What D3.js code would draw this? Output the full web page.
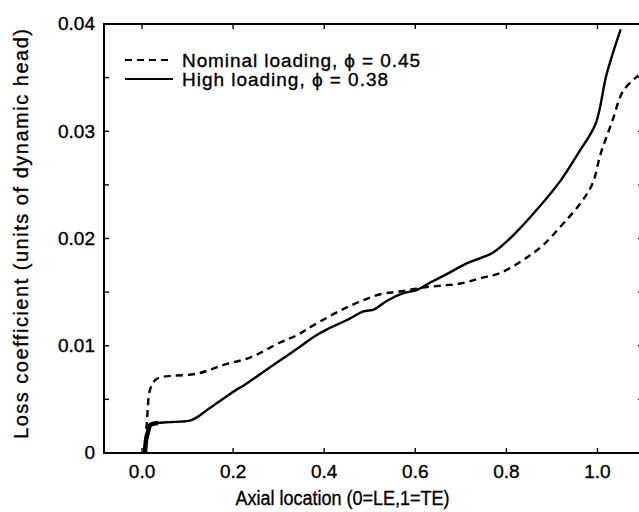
<!DOCTYPE html>
<html>
<head>
<meta charset="utf-8">
<script src="https://cdn.jsdelivr.net/npm/d3@7"></script>
<style>
  body { margin: 0; background: #fff; }
  text { font-family: "Liberation Sans", Arial, Helvetica, sans-serif; fill: #000; stroke: #000; stroke-width: 0.35px; }
</style>
</head>
<body>
<div id="my_dataviz"></div>
<script>
// data
var highX = [0.0066, 0.0088, 0.013, 0.018, 0.035, 0.07, 0.11, 0.149, 0.211, 0.22, 0.281, 0.343, 0.376, 0.405, 0.435, 0.455, 0.486, 0.51, 0.538, 0.574, 0.604, 0.633, 0.67, 0.714, 0.771, 0.815, 0.859, 0.919, 0.96, 0.996, 1.02, 1.051];
var highY = [0, 0.0012, 0.00195, 0.0026, 0.0028, 0.0029, 0.0031, 0.0042, 0.0060, 0.0062, 0.0080, 0.0098, 0.0108, 0.0115, 0.0121, 0.0125, 0.0132, 0.0134, 0.0142, 0.0149, 0.0152, 0.0159, 0.0167, 0.0177, 0.0187, 0.0203, 0.0223, 0.0254, 0.0281, 0.0307, 0.0353, 0.0395];
var nomX = [0.0066, 0.011, 0.0176, 0.029, 0.046, 0.121, 0.178, 0.237, 0.303, 0.341, 0.376, 0.451, 0.523, 0.574, 0.611, 0.655, 0.699, 0.743, 0.787, 0.837, 0.881, 0.925, 0.963, 0.989, 1.007, 1.033, 1.057, 1.09];
var nomY = [0, 0.0031, 0.0059, 0.0068, 0.0071, 0.0074, 0.0082, 0.0089, 0.0103, 0.0110, 0.0119, 0.0136, 0.0148, 0.0151, 0.0154, 0.0156, 0.0158, 0.0163, 0.0168, 0.0180, 0.0194, 0.0214, 0.0233, 0.0251, 0.0279, 0.0310, 0.0338, 0.0352];
var xTicks = [0.0, 0.2, 0.4, 0.6, 0.8, 1.0];
var yTicks = [0, 0.005, 0.01, 0.015, 0.02, 0.025, 0.03, 0.035, 0.04];
var yLabels = ["0", "0.01", "0.02", "0.03", "0.04"];
var legendNames = ["Nominal loading, \u03d5 = 0.45", "High loading, \u03d5 = 0.38"];

// set the dimensions and margins of the graph
var margin = { top: 24, right: -4, bottom: 59, left: 104 },
    width = 639 - margin.left - margin.right,
    height = 512 - margin.top - margin.bottom;

var svg = d3.select("#my_dataviz")
    .append("svg")
    .attr("width", 639)
    .attr("height", 512)
    .append("g")
    .attr("transform", "translate(" + margin.left + "," + margin.top + ")");

var x = d3.scaleLinear().domain([-0.0835, 1.1]).range([0, width]);
var y = d3.scaleLinear().domain([0, 0.04]).range([height, 0]);

// frame
svg.append("rect")
    .attr("width", width)
    .attr("height", height)
    .attr("fill", "none")
    .attr("stroke", "#000")
    .attr("stroke-width", 2);

// ticks pointing inward on all four sides
var tickLen = 5;
svg.selectAll(".xtb").data(xTicks).enter().append("line")
    .attr("x1", function(d) { return x(d); }).attr("x2", function(d) { return x(d); })
    .attr("y1", height).attr("y2", height - tickLen)
    .attr("stroke", "#000").attr("stroke-width", 1.4);
svg.selectAll(".xtt").data(xTicks).enter().append("line")
    .attr("x1", function(d) { return x(d); }).attr("x2", function(d) { return x(d); })
    .attr("y1", 0).attr("y2", tickLen)
    .attr("stroke", "#000").attr("stroke-width", 1.4);
svg.selectAll(".ytl").data(yTicks).enter().append("line")
    .attr("x1", 0).attr("x2", tickLen)
    .attr("y1", function(d) { return y(d); }).attr("y2", function(d) { return y(d); })
    .attr("stroke", "#000").attr("stroke-width", 1.4);
svg.selectAll(".ytr").data(yTicks).enter().append("line")
    .attr("x1", width).attr("x2", width - tickLen)
    .attr("y1", function(d) { return y(d); }).attr("y2", function(d) { return y(d); })
    .attr("stroke", "#000").attr("stroke-width", 1.4);

// tick labels
svg.selectAll(".xl").data(xTicks).enter().append("text")
    .attr("x", function(d) { return x(d); })
    .attr("y", height + 25)
    .attr("text-anchor", "middle")
    .style("font-size", "19px")
    .text(function(d) { return d3.format(".1f")(d); });
svg.selectAll(".yl").data(yLabels).enter().append("text")
    .attr("x", -9)
    .attr("y", function(d) { return y(+d); })
    .attr("dy", "0.33em")
    .attr("text-anchor", "end")
    .style("font-size", "19px")
    .text(function(d) { return d; });

// Create axes labels
svg.append("text")
    .attr("x", x(0.44))
    .attr("y", height + 52)
    .attr("text-anchor", "middle")
    .attr("textLength", 214)
    .attr("lengthAdjust", "spacingAndGlyphs")
    .style("font-size", "20px")
    .text("Axial location (0=LE,1=TE)");

svg.append("text")
    .attr("transform", "translate(" + (28 - margin.left) + "," + (234 - margin.top) + ") rotate(-90)")
    .attr("text-anchor", "middle")
    .attr("textLength", 410)
    .attr("lengthAdjust", "spacing")
    .style("font-size", "20px")
    .text("Loss coefficient (units of dynamic head)");

// lines
var line = d3.line()
    .x(function(d) { return x(d[0]); })
    .y(function(d) { return y(d[1]); })
    .curve(d3.curveCatmullRom.alpha(0.5));

var nomData = nomX.map(function(d, i) { return [d, nomY[i]]; });
var highData = highX.map(function(d, i) { return [d, highY[i]]; });

svg.append("path")
    .datum(nomData)
    .attr("d", line)
    .attr("fill", "none")
    .attr("stroke", "#000")
    .attr("stroke-width", 2.4)
    .attr("stroke-dasharray", "7,5");

svg.append("path")
    .datum(highData)
    .attr("d", line)
    .attr("fill", "none")
    .attr("stroke", "#000")
    .attr("stroke-width", 2.4);

// thick start of the high loading curve
svg.append("path")
    .datum(highData.slice(0, 5))
    .attr("d", line)
    .attr("fill", "none")
    .attr("stroke", "#000")
    .attr("stroke-width", 4.5);

// legend
var legend = svg.selectAll(".leg").data(legendNames).enter().append("g")
    .attr("transform", function(d, i) { return "translate(" + (125 - margin.left) + "," + (60 + i * 19 - margin.top) + ")"; });
legend.append("line")
    .attr("x1", 0).attr("x2", 48)
    .attr("stroke", "#000")
    .attr("stroke-width", 1.8)
    .attr("stroke-dasharray", function(d, i) { return i == 0 ? "7,5" : null; });
legend.append("text")
    .attr("x", 57)
    .attr("dy", "0.35em")
    .attr("textLength", 238)
    .attr("lengthAdjust", "spacing")
    .style("font-size", "19px")
    .text(function(d) { return d; });
legend.filter(function(d, i) { return i == 1; }).select("text")
    .attr("textLength", 206);
</script>
</body>
</html>
